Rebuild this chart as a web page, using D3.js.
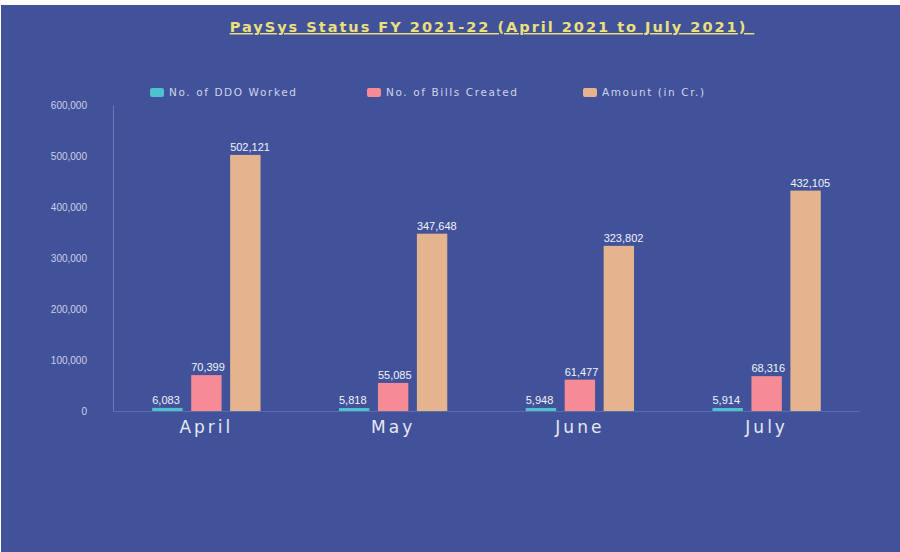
<!DOCTYPE html>
<html>
<head>
<meta charset="utf-8">
<script src="https://cdn.jsdelivr.net/npm/d3@7"></script>
<style>
  html, body { margin: 0; padding: 0; background: #ffffff; }
  svg { display: block; }
</style>
</head>
<body>
<svg id="chart" width="900" height="552"></svg>
<script>
const months = ["April", "May", "June", "July"];
const seriesNames = ["No. of DDO Worked", "No. of Bills Created", "Amount (in Cr.)"];
const ddoWorked = [6083, 5818, 5948, 5914];
const billsCreated = [70399, 55085, 61477, 68316];
const amountCr = [502121, 347648, 323802, 432105];
const yTicks = [0, 100000, 200000, 300000, 400000, 500000, 600000];
const colors = ["#4cc3cf", "#f48b95", "#e3b48e"];
const titleText = "PaySys Status FY 2021-22 (April 2021 to July 2021)";

const seriesValues = [ddoWorked, billsCreated, amountCr];
const data = months.map((m, i) => ({
  month: m,
  values: seriesNames.map((s, j) => ({ key: s, idx: j, value: seriesValues[j][i] }))
}));

const svg = d3.select("#chart");
svg.append("rect").attr("x", 1).attr("y", 5).attr("width", 899).attr("height", 547).attr("fill", "#41529b");

const x0 = d3.scaleBand().domain(months).range([113, 860]).paddingInner(0.42).paddingOuter(0.21);
const x1 = d3.scaleBand().domain(seriesNames).range([0, x0.bandwidth()]).paddingInner(0.22).paddingOuter(0);
const y = d3.scaleLinear().domain([0, 600000]).range([411, 105]);

// title
svg.append("text")
  .attr("x", 492).attr("y", 32)
  .attr("text-anchor", "middle")
  .attr("font-family", "'DejaVu Sans', sans-serif")
  .attr("font-weight", "bold")
  .attr("font-size", 14.5)
  .attr("letter-spacing", 2)
  .attr("fill", "#ebe07c")
  .attr("text-decoration", "underline")
  .text(titleText + "\u00a0");

// y axis
const yAxis = d3.axisLeft(y).tickValues(yTicks).tickFormat(d3.format(",")).tickSize(0).tickPadding(26);
const gy = svg.append("g").attr("transform", "translate(113,0)").call(yAxis);
gy.select(".domain").attr("stroke", "#8a95c4").attr("stroke-opacity", 0.6);
gy.selectAll("text")
  .attr("font-family", "'Liberation Sans', Arial, sans-serif")
  .attr("font-size", 10)
  .attr("fill", "#ccd0e6");

// x axis
const xAxis = d3.axisBottom(x0).tickSize(0).tickPadding(10);
const gx = svg.append("g").attr("transform", "translate(0,411)").call(xAxis);
gx.select(".domain").attr("stroke", "#5d6bab");
gx.selectAll("text")
  .attr("font-family", "'DejaVu Sans', sans-serif")
  .attr("font-size", 17)
  .attr("letter-spacing", 3)
  .attr("fill", "#e6e8f2");

// bars
const groups = svg.append("g").selectAll("g").data(data).join("g")
  .attr("transform", d => `translate(${x0(d.month)},0)`);

groups.selectAll("rect").data(d => d.values).join("rect")
  .attr("x", d => x1(d.key))
  .attr("y", d => y(d.value))
  .attr("width", x1.bandwidth())
  .attr("height", d => y(0) - y(d.value))
  .attr("fill", d => colors[d.idx]);

groups.selectAll("text.val").data(d => d.values).join("text")
  .attr("class", "val")
  .attr("x", d => x1(d.key))
  .attr("y", d => y(d.value) - 4)
  .attr("font-family", "'Liberation Sans', Arial, sans-serif")
  .attr("font-size", 11)
  .attr("fill", "#f2f3f8")
  .text(d => d3.format(",")(d.value));

// legend
const legendX = [150, 367, 583];
const lg = svg.append("g").selectAll("g").data(seriesNames).join("g")
  .attr("transform", (d, i) => `translate(${legendX[i]},88)`);
lg.append("rect").attr("width", 14).attr("height", 9).attr("rx", 2).attr("fill", (d, i) => colors[i]);
lg.append("text").attr("x", 19).attr("y", 8)
  .attr("font-family", "'DejaVu Sans', sans-serif")
  .attr("font-size", 10.5)
  .attr("letter-spacing", 1.6)
  .attr("fill", "#d0d4e8")
  .text(d => d);
</script>
</body>
</html>
